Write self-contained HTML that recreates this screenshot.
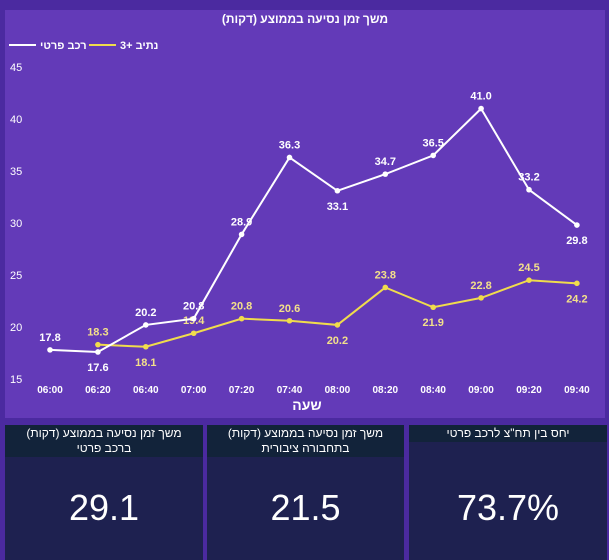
<!DOCTYPE html>
<html><head><meta charset="utf-8"><style>
body{margin:0;width:609px;height:560px;background:#4b2aa0;font-family:"Liberation Sans","Noto Sans CJK SC",sans-serif;overflow:hidden;position:relative}
.card{position:absolute;top:425px;height:135px;background:#1e2150}
.hdr{background:#12233a;color:#fff;font-size:12px;text-align:center;line-height:15px;padding:1px 0}
.val{position:absolute;left:0;right:0;top:62px;text-align:center;color:#fff;font-size:36px}
</style></head><body>
<svg width="609" height="420" style="position:absolute;left:0;top:0">
<rect x="5" y="10" width="600" height="408" fill="#633ab8"/>
<text x="305" y="23" text-anchor="middle" fill="#fff" font-size="12" font-weight="bold">משך זמן נסיעה בממוצע (דקות)</text>
<g>
<line x1="9" y1="45" x2="36" y2="45" stroke="#fff" stroke-width="2"/>
<text x="40" y="49" fill="#fff" font-size="11" font-weight="bold">רכב פרטי</text>
<line x1="89" y1="45" x2="116" y2="45" stroke="#f0dc4c" stroke-width="2"/>
<text x="120" y="49" fill="#fff" font-size="11" font-weight="bold">נתיב +3</text>
</g>
<g id="yaxis"></g><g id="xaxis"></g><g id="series"></g>
<text x="307" y="410" text-anchor="middle" fill="#fff" font-size="14" font-weight="bold">שעה</text>
</svg>
<div class="card" style="left:5px;width:198px"><div class="hdr">משך זמן נסיעה בממוצע (דקות)<br>ברכב פרטי</div><div class="val">29.1</div></div>
<div class="card" style="left:207px;width:197px"><div class="hdr">משך זמן נסיעה בממוצע (דקות)<br>בתחבורה ציבורית</div><div class="val">21.5</div></div>
<div class="card" style="left:409px;width:198px"><div class="hdr">יחס בין תח"צ לרכב פרטי</div><div class="val">73.7%</div></div>
<script>
const categories=["06:00","06:20","06:40","07:00","07:20","07:40","08:00","08:20","08:40","09:00","09:20","09:40"];
const privateCar=[17.8,17.6,20.2,20.8,28.9,36.3,33.1,34.7,36.5,41.0,33.2,29.8];
const hov=[null,18.3,18.1,19.4,20.8,20.6,20.2,23.8,21.9,22.8,24.5,24.2];
const yTicks=[15,20,25,30,35,40,45];
const privateLabelPos=["a","b","a","a","a","a","b","a","a","a","a","b"];
const hovLabelPos=["a","a","b","a","a","a","b","a","b","a","a","b"];
const NS="http://www.w3.org/2000/svg";
const x=i=>50+i*47.9;
const y=v=>379-(v-15)*10.4;
function mk(tag,attrs,parent,txt){const e=document.createElementNS(NS,tag);for(const k in attrs)e.setAttribute(k,attrs[k]);if(txt!=null)e.textContent=txt;parent.appendChild(e);return e;}
const ya=document.getElementById('yaxis'),xa=document.getElementById('xaxis'),sg=document.getElementById('series');
yTicks.forEach(t=>{const e=mk('text',{x:10,y:y(t)+4,fill:'#fff','font-size':11},ya,t);

});
categories.forEach((c,i)=>{const e=mk('text',{x:x(i),y:393,fill:'#fff','font-size':10,'font-weight':'bold','text-anchor':'middle'},xa,c);

});
function series(vals,color,lab,pos,name){
 const pts=[];vals.forEach((v,i)=>{if(v!=null)pts.push([x(i),y(v),v,i]);});
 const p=mk('polyline',{points:pts.map(q=>q[0]+','+q[1]).join(' '),fill:'none',stroke:color,'stroke-width':2},sg);
 
 
 pts.forEach(q=>{const c=mk('circle',{cx:q[0],cy:q[1],r:2.8,fill:color},sg);
  
  
  const t=mk('text',{x:q[0],y:pos[q[3]]==='a'?q[1]-9:q[1]+19,fill:lab,'font-size':11,'font-weight':'bold','text-anchor':'middle'},sg,q[2].toFixed(1));
  
  });
}
series(hov,'#f0dc4c','#f3e08a',hovLabelPos,'hov');
series(privateCar,'#ffffff','#ffffff',privateLabelPos,'private-car');
</script>
</body></html>
